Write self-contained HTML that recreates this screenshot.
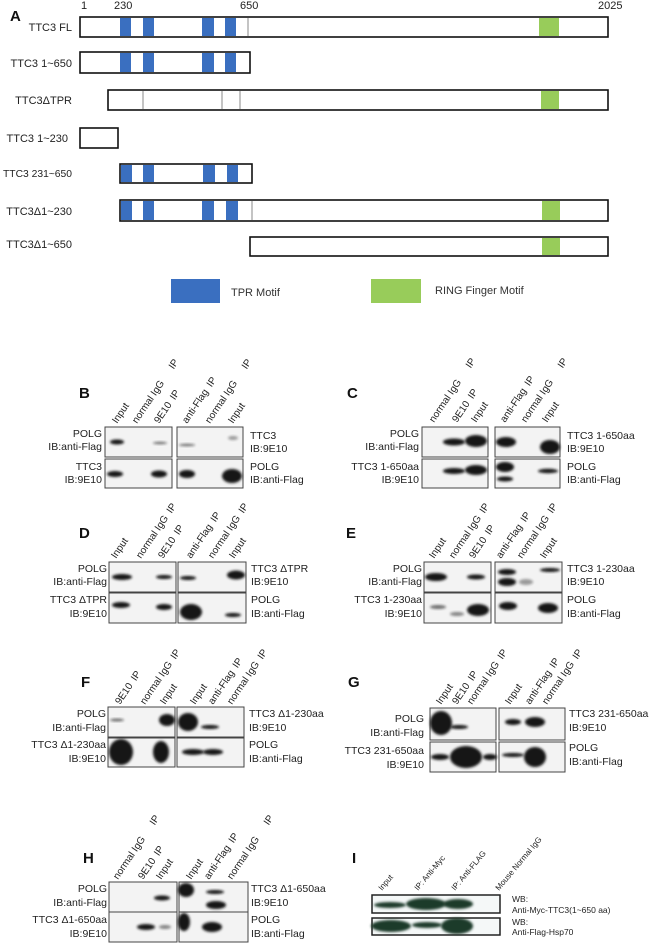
<!DOCTYPE html>
<html><head><meta charset="utf-8"><style>
html,body{margin:0;padding:0;background:#fff}
svg{display:block}
text{font-family:"Liberation Sans",Arial,sans-serif;fill:#222}
.l{font-size:10.5px}
.a{font-size:11px;fill:#333}
.h{font-size:10px}
.big{font-family:"Liberation Sans",sans-serif;font-weight:bold;font-size:15px;fill:#111}
.bx{fill:#f3f3f3;stroke:#444;stroke-width:1}
.b{fill:#151515;filter:url(#bl)}
.g{fill:#1d3b2c;filter:url(#bl)}
.bar{fill:#fff;stroke:#111;stroke-width:1.6}
.tp{fill:#3a6fc0}
.rf{fill:#98cc5a}
</style></head><body>
<svg width="650" height="943" viewBox="0 0 650 943" xmlns="http://www.w3.org/2000/svg">
<defs><filter id="bl" x="-30%" y="-50%" width="160%" height="200%"><feGaussianBlur stdDeviation="1.3"/></filter></defs>

<text x="10" y="21" class="big">A</text>
<g class="a">
<text x="81" y="9">1</text><text x="114" y="9">230</text><text x="240" y="9">650</text><text x="598" y="9">2025</text>
</g>
<g class="a" text-anchor="end">
<text x="72" y="31">TTC3 FL</text>
<text x="72" y="67">TTC3 1~650</text>
<text x="72" y="104">TTC3ΔTPR</text>
<text x="68" y="142">TTC3 1~230</text>
<text x="72" y="177" style="font-size:10.3px">TTC3 231~650</text>
<text x="72" y="215">TTC3Δ1~230</text>
<text x="72" y="248">TTC3Δ1~650</text>
</g>
<rect class="bar" x="80" y="17" width="528" height="20"/>
<rect class="tp" x="120" y="18" width="11" height="18"/><rect class="tp" x="143" y="18" width="11" height="18"/>
<rect class="tp" x="202" y="18" width="12" height="18"/><rect class="tp" x="225" y="18" width="11" height="18"/>
<line x1="248" y1="18" x2="248" y2="36" stroke="#888"/>
<rect class="rf" x="539" y="18" width="20" height="18"/>
<rect class="bar" x="80" y="52" width="170" height="21"/>
<rect class="tp" x="120" y="53" width="11" height="19"/><rect class="tp" x="143" y="53" width="11" height="19"/>
<rect class="tp" x="202" y="53" width="12" height="19"/><rect class="tp" x="225" y="53" width="11" height="19"/>
<rect class="bar" x="108" y="90" width="500" height="20"/>
<line x1="143" y1="91" x2="143" y2="109" stroke="#888"/><line x1="222" y1="91" x2="222" y2="109" stroke="#888"/><line x1="240" y1="91" x2="240" y2="109" stroke="#888"/>
<rect class="rf" x="541" y="91" width="18" height="18"/>
<rect class="bar" x="80" y="128" width="38" height="20"/>
<rect class="bar" x="120" y="164" width="132" height="19"/>
<rect class="tp" x="121" y="165" width="11" height="17"/><rect class="tp" x="143" y="165" width="11" height="17"/>
<rect class="tp" x="203" y="165" width="12" height="17"/><rect class="tp" x="227" y="165" width="11" height="17"/>
<rect class="bar" x="120" y="200" width="488" height="21"/>
<rect class="tp" x="121" y="201" width="11" height="19"/><rect class="tp" x="143" y="201" width="11" height="19"/>
<rect class="tp" x="202" y="201" width="12" height="19"/><rect class="tp" x="226" y="201" width="12" height="19"/>
<line x1="252" y1="201" x2="252" y2="220" stroke="#888"/>
<rect class="rf" x="542" y="201" width="18" height="19"/>
<rect class="bar" x="250" y="237" width="358" height="19"/>
<rect class="rf" x="542" y="238" width="18" height="17"/>
<rect class="tp" x="171" y="279" width="49" height="24"/><text x="231" y="296" class="a">TPR Motif</text>
<rect class="rf" x="371" y="279" width="50" height="24"/><text x="435" y="294" class="a">RING Finger Motif</text>

<!-- B -->
<text x="79" y="398" class="big">B</text>
<g class="h">
<text transform="translate(117,424) rotate(-56)">Input</text>
<text transform="translate(137,424) rotate(-56)">normal IgG<tspan dx="16">IP</tspan></text>
<text transform="translate(159,424) rotate(-56)">9E10<tspan dx="5">IP</tspan></text>
<text transform="translate(187,424) rotate(-56)">anti-Flag<tspan dx="5">IP</tspan></text>
<text transform="translate(210,424) rotate(-56)">normal IgG<tspan dx="16">IP</tspan></text>
<text transform="translate(233,424) rotate(-56)">Input</text>
</g>
<rect class="bx" x="105" y="427" width="67" height="30"/><rect class="bx" x="177" y="427" width="66" height="30"/>
<rect class="bx" x="105" y="459" width="67" height="29"/><rect class="bx" x="177" y="459" width="66" height="29"/>
<ellipse class="b" cx="117" cy="442" rx="7" ry="2.5"/><ellipse class="b" cx="160" cy="443" rx="7" ry="1.3" opacity=".6"/>
<ellipse class="b" cx="187" cy="445" rx="8" ry="1.3" opacity=".6"/><ellipse class="b" cx="233" cy="438" rx="5" ry="2" opacity=".4"/>
<ellipse class="b" cx="115" cy="474" rx="8" ry="3"/><ellipse class="b" cx="159" cy="474" rx="8" ry="3.5"/>
<ellipse class="b" cx="187" cy="474" rx="8" ry="4"/><ellipse class="b" cx="232" cy="476" rx="10" ry="7"/>
<g class="l" text-anchor="end"><text x="102" y="437">POLG</text><text x="102" y="450">IB:anti-Flag</text><text x="102" y="470">TTC3</text><text x="102" y="483">IB:9E10</text></g>
<g class="l"><text x="250" y="439">TTC3</text><text x="250" y="452">IB:9E10</text><text x="250" y="470">POLG</text><text x="250" y="483">IB:anti-Flag</text></g>

<!-- C -->
<text x="347" y="398" class="big">C</text>
<g class="h">
<text transform="translate(434,423) rotate(-56)">normal IgG<tspan dx="16">IP</tspan></text>
<text transform="translate(457,423) rotate(-56)">9E10<tspan dx="5">IP</tspan></text>
<text transform="translate(476,423) rotate(-56)">Input</text>
<text transform="translate(505,423) rotate(-56)">anti-Flag<tspan dx="5">IP</tspan></text>
<text transform="translate(526,423) rotate(-56)">normal IgG<tspan dx="16">IP</tspan></text>
<text transform="translate(547,423) rotate(-56)">Input</text>
</g>
<rect class="bx" x="422" y="427" width="66" height="30"/><rect class="bx" x="495" y="427" width="65" height="30"/>
<rect class="bx" x="422" y="459" width="66" height="29"/><rect class="bx" x="495" y="459" width="65" height="29"/>
<ellipse class="b" cx="454" cy="442" rx="11" ry="3.5"/><ellipse class="b" cx="476" cy="441" rx="11" ry="6"/>
<ellipse class="b" cx="506" cy="442" rx="10" ry="5"/><ellipse class="b" cx="550" cy="447" rx="10" ry="7"/>
<ellipse class="b" cx="454" cy="471" rx="11" ry="3"/><ellipse class="b" cx="476" cy="470" rx="11" ry="5"/>
<ellipse class="b" cx="505" cy="467" rx="9" ry="5"/><ellipse class="b" cx="505" cy="479" rx="8" ry="2.5"/><ellipse class="b" cx="548" cy="471" rx="10" ry="2.2"/>
<g class="l" text-anchor="end"><text x="419" y="437">POLG</text><text x="419" y="450">IB:anti-Flag</text><text x="419" y="470">TTC3  1-650aa</text><text x="419" y="483">IB:9E10</text></g>
<g class="l"><text x="567" y="439">TTC3 1-650aa</text><text x="567" y="452">IB:9E10</text><text x="567" y="470">POLG</text><text x="567" y="483">IB:anti-Flag</text></g>

<!-- D -->
<text x="79" y="538" class="big">D</text>
<g class="h">
<text transform="translate(116,559) rotate(-56)">Input</text>
<text transform="translate(141,559) rotate(-56)">normal IgG<tspan dx="5">IP</tspan></text>
<text transform="translate(163,559) rotate(-56)">9E10<tspan dx="5">IP</tspan></text>
<text transform="translate(191,559) rotate(-56)">anti-Flag<tspan dx="5">IP</tspan></text>
<text transform="translate(213,559) rotate(-56)">normal IgG<tspan dx="5">IP</tspan></text>
<text transform="translate(234,559) rotate(-56)">Input</text>
</g>
<rect class="bx" x="109" y="562" width="67" height="30"/><rect class="bx" x="178" y="562" width="68" height="30"/>
<rect class="bx" x="109" y="593" width="67" height="30"/><rect class="bx" x="178" y="593" width="68" height="30"/>
<ellipse class="b" cx="122" cy="577" rx="10" ry="3"/><ellipse class="b" cx="164" cy="577" rx="8" ry="2"/>
<ellipse class="b" cx="188" cy="578" rx="8" ry="2"/><ellipse class="b" cx="236" cy="575" rx="9" ry="4.5"/>
<ellipse class="b" cx="121" cy="605" rx="9" ry="3"/><ellipse class="b" cx="164" cy="607" rx="8" ry="3"/>
<ellipse class="b" cx="191" cy="612" rx="11" ry="8"/><ellipse class="b" cx="233" cy="615" rx="8" ry="2"/>
<g class="l" text-anchor="end"><text x="107" y="572">POLG</text><text x="107" y="585">IB:anti-Flag</text><text x="107" y="603">TTC3  ΔTPR</text><text x="107" y="617">IB:9E10</text></g>
<g class="l"><text x="251" y="572">TTC3 ΔTPR</text><text x="251" y="585">IB:9E10</text><text x="251" y="603">POLG</text><text x="251" y="617">IB:anti-Flag</text></g>

<!-- E -->
<text x="346" y="538" class="big">E</text>
<g class="h">
<text transform="translate(434,559) rotate(-56)">Input</text>
<text transform="translate(454,559) rotate(-56)">normal IgG<tspan dx="5">IP</tspan></text>
<text transform="translate(474,559) rotate(-56)">9E10<tspan dx="5">IP</tspan></text>
<text transform="translate(501,559) rotate(-56)">anti-Flag<tspan dx="5">IP</tspan></text>
<text transform="translate(522,559) rotate(-56)">normal IgG<tspan dx="5">IP</tspan></text>
<text transform="translate(545,559) rotate(-56)">Input</text>
</g>
<rect class="bx" x="424" y="562" width="67" height="30"/><rect class="bx" x="495" y="562" width="67" height="30"/>
<rect class="bx" x="424" y="593" width="67" height="30"/><rect class="bx" x="495" y="593" width="67" height="30"/>
<ellipse class="b" cx="436" cy="577" rx="11" ry="4"/><ellipse class="b" cx="476" cy="577" rx="9" ry="2.5"/>
<ellipse class="b" cx="507" cy="572" rx="9" ry="3"/><ellipse class="b" cx="507" cy="582" rx="9" ry="4"/>
<ellipse class="b" cx="526" cy="582" rx="7" ry="3" opacity=".4"/><ellipse class="b" cx="550" cy="570" rx="10" ry="2"/>
<ellipse class="b" cx="438" cy="607" rx="8" ry="2" opacity=".6"/><ellipse class="b" cx="457" cy="614" rx="7" ry="2" opacity=".5"/>
<ellipse class="b" cx="478" cy="610" rx="11" ry="6"/><ellipse class="b" cx="508" cy="606" rx="9" ry="4"/><ellipse class="b" cx="548" cy="608" rx="10" ry="5"/>
<g class="l" text-anchor="end"><text x="422" y="572">POLG</text><text x="422" y="585">IB:anti-Flag</text><text x="422" y="603">TTC3  1-230aa</text><text x="422" y="617">IB:9E10</text></g>
<g class="l"><text x="567" y="572">TTC3 1-230aa</text><text x="567" y="585">IB:9E10</text><text x="567" y="603">POLG</text><text x="567" y="617">IB:anti-Flag</text></g>

<!-- F -->
<text x="81" y="687" class="big">F</text>
<g class="h">
<text transform="translate(120,705) rotate(-56)">9E10<tspan dx="5">IP</tspan></text>
<text transform="translate(145,705) rotate(-56)">normal IgG<tspan dx="5">IP</tspan></text>
<text transform="translate(165,705) rotate(-56)">Input</text>
<text transform="translate(195,705) rotate(-56)">Input</text>
<text transform="translate(213,705) rotate(-56)">anti-Flag<tspan dx="5">IP</tspan></text>
<text transform="translate(232,705) rotate(-56)">normal IgG<tspan dx="5">IP</tspan></text>
</g>
<rect class="bx" x="108" y="707" width="67" height="30"/><rect class="bx" x="177" y="707" width="67" height="30"/>
<rect class="bx" x="108" y="738" width="67" height="29"/><rect class="bx" x="177" y="738" width="67" height="29"/>
<ellipse class="b" cx="117" cy="720" rx="7" ry="1.5" opacity=".6"/><ellipse class="b" cx="167" cy="720" rx="8" ry="6"/>
<ellipse class="b" cx="188" cy="722" rx="10" ry="9"/><ellipse class="b" cx="210" cy="727" rx="9" ry="2"/>
<ellipse class="b" cx="121" cy="752" rx="12" ry="13"/><ellipse class="b" cx="161" cy="752" rx="8" ry="11"/>
<ellipse class="b" cx="193" cy="752" rx="11" ry="3"/><ellipse class="b" cx="213" cy="752" rx="10" ry="3"/>
<g class="l" text-anchor="end"><text x="106" y="717">POLG</text><text x="106" y="731">IB:anti-Flag</text><text x="106" y="748">TTC3  Δ1-230aa</text><text x="106" y="762">IB:9E10</text></g>
<g class="l"><text x="249" y="717">TTC3 Δ1-230aa</text><text x="249" y="731">IB:9E10</text><text x="249" y="748">POLG</text><text x="249" y="762">IB:anti-Flag</text></g>

<!-- G -->
<text x="348" y="687" class="big">G</text>
<g class="h">
<text transform="translate(441,705) rotate(-56)">Input</text>
<text transform="translate(457,705) rotate(-56)">9E10<tspan dx="5">IP</tspan></text>
<text transform="translate(472,705) rotate(-56)">normal IgG<tspan dx="5">IP</tspan></text>
<text transform="translate(510,705) rotate(-56)">Input</text>
<text transform="translate(530,705) rotate(-56)">anti-Flag<tspan dx="5">IP</tspan></text>
<text transform="translate(547,705) rotate(-56)">normal IgG<tspan dx="5">IP</tspan></text>
</g>
<rect class="bx" x="430" y="708" width="66" height="32"/><rect class="bx" x="499" y="708" width="66" height="32"/>
<rect class="bx" x="430" y="742" width="66" height="30"/><rect class="bx" x="499" y="742" width="66" height="30"/>
<ellipse class="b" cx="441" cy="723" rx="11" ry="12"/><ellipse class="b" cx="459" cy="727" rx="9" ry="2"/>
<ellipse class="b" cx="513" cy="722" rx="8" ry="3"/><ellipse class="b" cx="535" cy="722" rx="10" ry="5"/>
<ellipse class="b" cx="440" cy="757" rx="9" ry="3"/><ellipse class="b" cx="466" cy="757" rx="16" ry="11"/><ellipse class="b" cx="490" cy="757" rx="7" ry="3"/>
<ellipse class="b" cx="513" cy="755" rx="11" ry="2"/><ellipse class="b" cx="535" cy="757" rx="11" ry="10"/>
<g class="l" text-anchor="end"><text x="424" y="722">POLG</text><text x="424" y="736">IB:anti-Flag</text><text x="424" y="754">TTC3  231-650aa</text><text x="424" y="768">IB:9E10</text></g>
<g class="l"><text x="569" y="717">TTC3 231-650aa</text><text x="569" y="731">IB:9E10</text><text x="569" y="751">POLG</text><text x="569" y="765">IB:anti-Flag</text></g>

<!-- H -->
<text x="83" y="863" class="big">H</text>
<g class="h">
<text transform="translate(118,880) rotate(-56)">normal IgG<tspan dx="16">IP</tspan></text>
<text transform="translate(143,880) rotate(-56)">9E10<tspan dx="5">IP</tspan></text>
<text transform="translate(161,880) rotate(-56)">Input</text>
<text transform="translate(191,880) rotate(-56)">Input</text>
<text transform="translate(209,880) rotate(-56)">anti-Flag<tspan dx="5">IP</tspan></text>
<text transform="translate(232,880) rotate(-56)">normal IgG<tspan dx="16">IP</tspan></text>
</g>
<rect class="bx" x="109" y="882" width="68" height="30"/><rect class="bx" x="179" y="882" width="69" height="30"/>
<rect class="bx" x="109" y="912" width="68" height="30"/><rect class="bx" x="179" y="912" width="69" height="30"/>
<ellipse class="b" cx="162" cy="898" rx="8" ry="2.5"/>
<ellipse class="b" cx="186" cy="890" rx="8" ry="7"/><ellipse class="b" cx="215" cy="892" rx="9" ry="2"/><ellipse class="b" cx="216" cy="905" rx="10" ry="4"/>
<ellipse class="b" cx="146" cy="927" rx="9" ry="3"/><ellipse class="b" cx="165" cy="927" rx="6" ry="2" opacity=".5"/>
<ellipse class="b" cx="184" cy="922" rx="6" ry="9"/><ellipse class="b" cx="212" cy="927" rx="10" ry="5"/>
<g class="l" text-anchor="end"><text x="107" y="892">POLG</text><text x="107" y="906">IB:anti-Flag</text><text x="107" y="923">TTC3  Δ1-650aa</text><text x="107" y="937">IB:9E10</text></g>
<g class="l"><text x="251" y="892">TTC3 Δ1-650aa</text><text x="251" y="906">IB:9E10</text><text x="251" y="923">POLG</text><text x="251" y="937">IB:anti-Flag</text></g>

<!-- I -->
<text x="352" y="863" class="big">I</text>
<g style="font-size:8px">
<text transform="translate(382,891) rotate(-50)">Input</text>
<text transform="translate(418,891) rotate(-50)">IP: Anti-Myc</text>
<text transform="translate(455,891) rotate(-50)">IP: Anti-FLAG</text>
<text transform="translate(499,891) rotate(-50)">Mouse Normal IgG</text>
</g>
<rect x="372" y="895" width="128" height="18" fill="#f5f8f8" stroke="#222" stroke-width="1.5"/>
<rect x="372" y="918" width="128" height="17" fill="#f5f8f8" stroke="#222" stroke-width="1.5"/>
<ellipse class="g" cx="390" cy="905" rx="16" ry="3"/><ellipse class="g" cx="426" cy="904" rx="20" ry="6"/><ellipse class="g" cx="458" cy="904" rx="15" ry="5"/>
<ellipse class="g" cx="391" cy="926" rx="20" ry="6"/><ellipse class="g" cx="427" cy="925" rx="15" ry="3"/><ellipse class="g" cx="457" cy="926" rx="16" ry="8"/>
<g style="font-size:8.5px"><text x="512" y="902">WB:</text><text x="512" y="913">Anti-Myc-TTC3(1~650 aa)</text><text x="512" y="925">WB:</text><text x="512" y="935">Anti-Flag-Hsp70</text></g>
</svg>
</body></html>
